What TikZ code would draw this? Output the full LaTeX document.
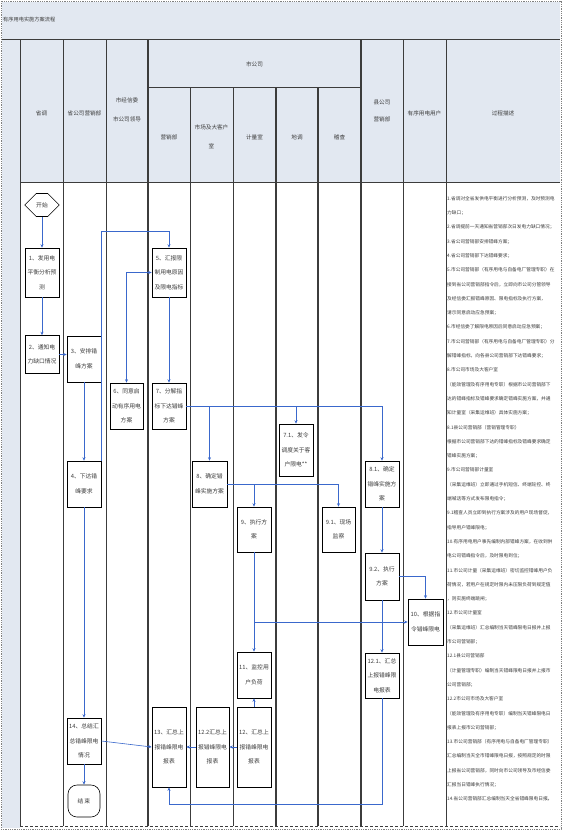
\documentclass[tikz,border=0pt]{standalone}
\usepackage{fontspec}
\setmainfont{Noto Sans CJK SC}
\usetikzlibrary{shapes.symbols,arrows.meta,calc}
\definecolor{hdr}{RGB}{226,232,241}
\definecolor{connc}{RGB}{58,104,204}
\definecolor{lanec}{RGB}{60,60,60}
\definecolor{txt}{RGB}{60,60,60}
\begin{document}
\begin{tikzpicture}[x=1pt,y=-1pt,
  >={Stealth[length=3.5pt,width=3pt]},
  box/.style={draw=black,line width=0.6pt,fill=white,inner sep=0pt,align=center,
    font=\fontsize{5.8}{14.5}\selectfont,text=txt},
  conn/.style={draw=connc,line width=0.6pt,->},
  conn2/.style={draw=connc,line width=0.6pt,<->},
  connl/.style={draw=connc,line width=0.6pt},
  lanel/.style={draw=lanec,line width=0.8pt},
  lanet/.style={draw=lanec,line width=1.1pt},
  hd/.style={font=\fontsize{5.6}{12}\selectfont,text=txt,align=center,inner sep=0pt}]
\useasboundingbox (0,0) rectangle (562,830);
% backgrounds
\fill[hdr] (2,2) rectangle (560,182);
\fill[hdr] (2,182) rectangle (20,828);
\fill[white] (20,182) rectangle (560,826);
% grid
\draw[lanel] (2,39) -- (560,39);
\draw[lanel] (20,182) -- (560,182);
\draw[lanel] (148,87) -- (361,87);
\foreach \xx in {20,63,106,403,446} {\draw[lanel] (\xx,39) -- (\xx,826);}
\foreach \xx in {148,361} {\draw[lanet] (\xx,39) -- (\xx,826);}
\foreach \xx in {190,233} {\draw[lanel] (\xx,87) -- (\xx,826);}
\foreach \xx in {276,318} {\draw[lanet] (\xx,87) -- (\xx,826);}
\draw[lanel,densely dashed] (20,826) -- (560,826);
\draw[gray,densely dotted,line width=0.8pt] (1,1) rectangle (561,829);
% header texts
\node[hd,anchor=west,font=\fontsize{5.2}{10}\selectfont] (title) at (3,20) {有序用电实施方案流程};
\node[hd] (h1) at (41.5,113) {省调};
\node[hd] (h2) at (84.5,113) {省公司营销部};
\node[hd,font=\fontsize{5.6}{19}\selectfont] (h3) at (127,110) {市经信委\\市公司领导};
\node[hd] (h4) at (254.5,64) {市公司};
\node[hd] (h5) at (169,137) {营销部};
\node[hd,font=\fontsize{5.6}{19}\selectfont] (h6) at (211.5,137) {市场及大客户\\室};
\node[hd] (h7) at (254.5,137) {计量室};
\node[hd] (h8) at (297,137) {地调};
\node[hd] (h9) at (339.5,137) {稽查};
\node[hd,font=\fontsize{5.6}{17}\selectfont] (h10) at (382,111) {县公司\\营销部};
\node[hd] (h11) at (424.5,113) {有序用电用户};
\node[hd] (h12) at (503,113) {过程描述};
% nodes
\node[draw=black,line width=0.6pt,fill=white,shape=signal,signal to=west and east,
  minimum width=30pt,minimum height=23pt,inner sep=0pt,font=\fontsize{5.8}{12}\selectfont,text=txt] (start) at (42,205) {开始};
\node[box,minimum width=34pt,minimum height=49pt] (n1) at (42,272.5) {1、发用电\\平衡分析预\\测};
\node[box,minimum width=34pt,minimum height=38pt] (n2) at (42,354.5) {2、通知电\\力缺口情况};
\node[box,minimum width=34pt,minimum height=46pt] (n3) at (84,359) {3、安排错\\峰方案};
\node[box,minimum width=34pt,minimum height=46pt] (n4) at (84,484) {4、下达错\\峰要求};
\node[box,minimum width=34pt,minimum height=49pt] (n5) at (169,272.5) {5、汇报限\\制用电原因\\及限电指标};
\node[box,minimum width=33pt,minimum height=46pt] (n6) at (126.5,406) {6、同意启\\动有序用电\\方案};
\node[box,minimum width=34pt,minimum height=46pt] (n7) at (169,406) {7、分解指\\标下达错峰\\方案};
\node[box,minimum width=34pt,minimum height=52pt] (n71) at (296,450) {7.1、发令\\调度关于客\\户限电**};
\node[box,minimum width=35pt,minimum height=46pt] (n8) at (209.5,484) {8、确定错\\峰实施方案};
\node[box,minimum width=34pt,minimum height=46pt] (n81) at (382,484) {8.1、确定\\错峰实施方\\案};
\node[box,minimum width=34pt,minimum height=45pt] (n9) at (254,529.5) {9、执行方\\案};
\node[box,minimum width=33pt,minimum height=45pt] (n91) at (338.5,529.5) {9.1、现场\\监察};
\node[box,minimum width=34pt,minimum height=47pt] (n92) at (382,576.5) {9.2、执行\\方案};
\node[box,minimum width=35pt,minimum height=46pt] (n10) at (425.5,622) {10、根据指\\令错峰限电};
\node[box,minimum width=34pt,minimum height=46pt] (n11) at (254,675) {11、监控用\\户负荷};
\node[box,minimum width=34pt,minimum height=45pt] (n121) at (382,675.5) {12.1、汇总\\上报错峰限\\电报表};
\node[box,minimum width=34pt,minimum height=80pt] (n12) at (254,747) {12、汇总上\\报错峰限电\\报表};
\node[box,minimum width=33pt,minimum height=80pt] (n122) at (212.5,747) {12.2汇总上\\报错峰限电\\报表};
\node[box,minimum width=34pt,minimum height=80pt] (n13) at (169,747) {13、汇总上\\报错峰限电\\报表};
\node[box,minimum width=34pt,minimum height=46pt] (n14) at (84,741) {14、总结汇\\总错峰限电\\情况};
\node[box,rounded corners=9pt,minimum width=32pt,minimum height=32pt] (end) at (84,801) {结\,束};
% connectors
\coordinate (c45) at (169,231);
\coordinate (c13) at (169,804);
\draw[conn] (start.south) -- (n1.north);
\draw[conn] (n1.south) -- (n2.north);
\draw[conn] (n2.east) -- (n3.west |- n2.east);
\draw[conn] (n3.south) -- (n4.north);
\draw[connl] (n4.north east) |- (c45);
\draw[conn] (c45) -- (n5.north);
\draw[conn2] (n6.north) |- (n5.west);
\draw[conn] (n5.south) -- (n7.north);
\draw[conn] (n7.east) -| (n81.north);
\draw[conn] (n8.north |- n7.east) -- (n8.north);
\draw[conn] (n71.north |- n7.east) -- (n71.north);
\draw[conn] (n8.east) -| (n91.north);
\draw[conn] (n9.north |- n8.east) -- (n9.north);
\draw[conn] (n81.south) -- (n92.north);
\draw[conn] (n92.east) -| (n10.north);
\draw[conn] (n9.south) -- (n11.north);
\draw[conn] (n11.north |- n10.west) -- (n10.west);
\draw[conn] (n92.south) -- (n121.north);
\draw[conn] (n12.north) -- (n11.south);
\draw[conn] (n12.west) -- (n122.east);
\draw[conn] (n122.west) -- (n13.east);
\draw[conn] (n14.east) -- (n13.west);
\draw[conn] (n4.south) -- (n14.north);
\draw[conn] (n14.south) -- (end.north);
\draw[connl] (n121.south) |- (c13);
\draw[conn] (c13) -- (n13.south);
% description
\node[anchor=north west,align=left,inner sep=0pt,text=txt,
  font=\fontsize{4.7}{14.3}\selectfont] (desc) at (447,196) {%
1.省调对全省发供电平衡进行分析预测，及时预测电\\
力缺口；\\
2.省调提前一天通知省营销部次日发电力缺口情况；\\
3.省公司营销部安排错峰方案；\\
4.省公司营销部下达错峰要求；\\
5.市公司营销部（有序用电与自备电厂管理专职）在\\
接到省公司营销部指令后，立即向市公司分管领导\\
及经信委汇报错峰原因、限电指标及执行方案，\\
请示同意启动应急预案；\\
6.市经信委了解限电原因后同意启动应急预案；\\
7.市公司营销部（有序用电与自备电厂管理专职）分\\
解错峰指标，向各县公司营销部下达错峰要求；\\
8.市公司市场及大客户室\\
（能效管理及有序用电专职）根据市公司营销部下\\
达的错峰指标及错峰要求确定错峰实施方案，并通\\
知计量室（采集运维班）具体实施方案；\\
8.1县公司营销部（营销管理专职）\\
根据市公司营销部下达的错峰指标及错峰要求确定\\
错峰实施方案；\\
9.市公司营销部计量室\\
（采集运维班）立即通过手机短信、终端轮控、终\\
端喊话等方式发布限电指令；\\
9.1稽查人员立即到执行方案涉及的用户现场督促，\\
指导用户错峰限电；\\
10.有序用电用户事先编制内部错峰方案，在收到供\\
电公司错峰指令后，及时限电到位；\\
11.市公司计量（采集运维班）密切监控错峰用户负\\
荷情况，若用户在规定时限内未压限负荷到规定值\\
，则实施终端跳闸；\\
12.市公司计量室\\
（采集运维班）汇总编制当天错峰限电日报并上报\\
市公司营销部；\\
12.1县公司营销部\\
（计量管理专职）编制当天错峰限电日报并上报市\\
公司营销部；\\
12.2市公司市场及大客户室\\
（能效管理及有序用电专职）编制当天错峰限电日\\
报表上报市公司营销部；\\
13.市公司营销部（有序用电与自备电厂管理专职）\\
汇总编制当天全市错峰限电日报，按照规定的时限\\
上报省公司营销部，同时向市公司领导及市经信委\\
汇报当日错峰执行情况；\\
14.省公司营销部汇总编制当天全省错峰限电日报。};
\end{tikzpicture}
\end{document}
